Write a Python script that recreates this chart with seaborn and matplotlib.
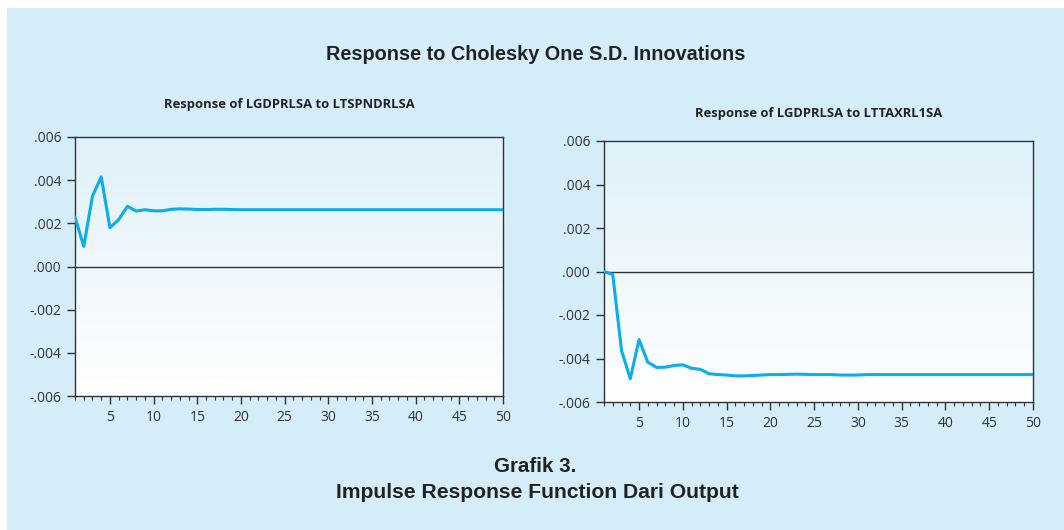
import numpy as np
import pandas as pd
import matplotlib
matplotlib.use("Agg")
import matplotlib.pyplot as plt
from matplotlib.ticker import FuncFormatter, MultipleLocator
import seaborn as sns

sns.set_theme(style="ticks")
plt.rcParams['font.family'] = ['Open Sans', 'DejaVu Sans']

# periods 1..50
periods = list(range(1, 51))

# response of LGDPRLSA to LTSPNDRLSA
resp_tspnd = [0.00229, 0.00093, 0.00326, 0.00415, 0.00180, 0.00217, 0.00279, 0.00257,
              0.00263, 0.00258, 0.00258, 0.00265, 0.00267, 0.00266, 0.00264, 0.00264,
              0.00265, 0.00265, 0.00264] + [0.00263] * 31

# response of LGDPRLSA to LTTAXRL1SA
resp_ttax = [0.00000, -0.00014, -0.00363, -0.00493, -0.00313, -0.00417, -0.00441, -0.00440,
             -0.00432, -0.00429, -0.00445, -0.00450, -0.00470, -0.00474, -0.00476, -0.00480,
             -0.00480, -0.00478, -0.00476, -0.00474, -0.00474, -0.00473, -0.00472, -0.00473,
             -0.00474, -0.00474, -0.00474, -0.00476, -0.00476, -0.00476] + [-0.00474] * 20

panel_titles = ["Response of LGDPRLSA to LTSPNDRLSA", "Response of LGDPRLSA to LTTAXRL1SA"]
y_ticks = [-0.006, -0.004, -0.002, 0.0, 0.002, 0.004, 0.006]

df = pd.DataFrame({"period": periods, "tspnd": resp_tspnd, "ttax": resp_ttax})

bg = "#d5ecf9"
line_col = "#0aaeea"

fig = plt.figure(figsize=(10.64, 5.30), dpi=100)
fig.patch.set_facecolor("white")
fig.add_artist(plt.Rectangle((7 / 1064, 0), 1, 1 - 8 / 530, transform=fig.transFigure,
                             facecolor=bg, edgecolor="none", zorder=-10))

ax1 = fig.add_axes([75 / 1064, 1 - 396 / 530, 428 / 1064, 259 / 530])
ax2 = fig.add_axes([604 / 1064, 1 - 402 / 530, 429 / 1064, 261 / 530])


def fmt(v, pos):
    s = "%.3f" % v
    if s.startswith("0"):
        s = s[1:]
    elif s.startswith("-0"):
        s = "-" + s[2:]
    return s


grad = np.linspace(0, 1, 256).reshape(-1, 1)
cmap = matplotlib.colors.LinearSegmentedColormap.from_list("g", ["#dff1fa", "#ffffff"])

for ax, col, title, tpad in [(ax1, "tspnd", panel_titles[0], 21),
                             (ax2, "ttax", panel_titles[1], 17.4)]:
    ax.set_facecolor("none")
    ax.imshow(grad, extent=[0, 1, 0, 1], transform=ax.transAxes, aspect="auto",
              cmap=cmap, zorder=0)
    ax.axhline(0, color="#333333", lw=1.0, zorder=1)
    sns.lineplot(data=df, x="period", y=col, ax=ax, color=line_col, lw=2.2, zorder=3)
    ax.set_xlim(1, 50)
    ax.set_ylim(-0.006, 0.006)
    ax.set_yticks(y_ticks)
    ax.yaxis.set_major_formatter(FuncFormatter(fmt))
    ax.xaxis.set_major_locator(MultipleLocator(5))
    ax.xaxis.set_minor_locator(MultipleLocator(1))
    ax.tick_params(axis="both", which="major", direction="out", length=6, width=1,
                   color="#333333", labelsize=10, labelcolor="#333333", pad=4)
    ax.tick_params(axis="x", which="minor", direction="out", length=3, width=0.8,
                   color="#333333")
    ax.set_xlabel("")
    ax.set_ylabel("")
    for sp in ax.spines.values():
        sp.set_visible(True)
        sp.set_color("#333333")
        sp.set_linewidth(1.0)
    ax.set_title(title, fontsize=9.4, fontweight="bold", color="#222222",
                 family=["Open Sans", "DejaVu Sans"], pad=tpad)

fig.text(536 / 1064, 1 - 55 / 530, "Response to Cholesky One S.D. Innovations",
         ha="center", va="center", fontsize=14.3, fontweight="bold", color="#222222",
         family=["Liberation Sans", "DejaVu Sans"])
fig.text(535 / 1064, 1 - 466 / 530, "Grafik 3.", ha="center", va="center",
         fontsize=14.8, fontweight="bold", color="#222222",
         family=["Liberation Sans", "DejaVu Sans"])
fig.text(537 / 1064, 1 - 492 / 530, "Impulse Response Function Dari Output",
         ha="center", va="center", fontsize=15.2, fontweight="bold", color="#222222",
         family=["Liberation Sans", "DejaVu Sans"])

fig.savefig("out.png", dpi=100, facecolor=fig.get_facecolor())
